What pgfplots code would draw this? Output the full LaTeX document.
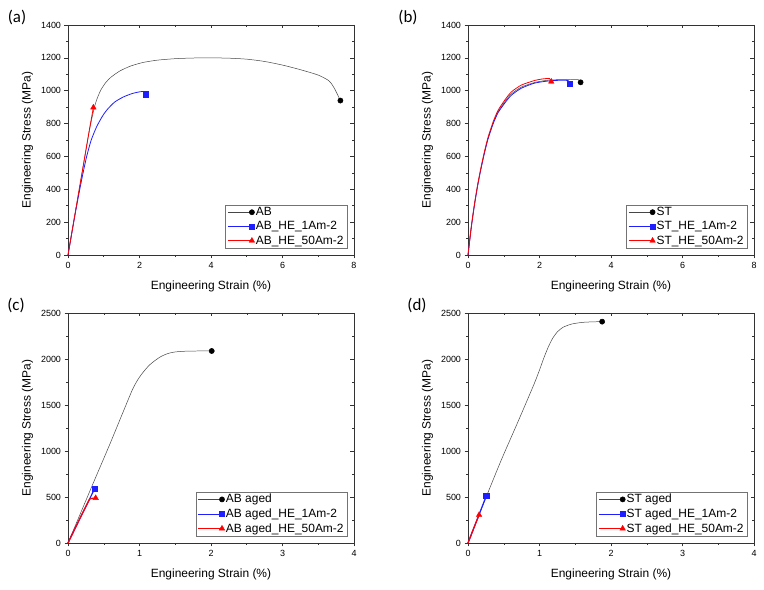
\documentclass[border=0pt]{standalone}
\usepackage{pgfplots}
\pgfplotsset{compat=1.18}
\usepackage{fontspec}
\setmainfont{Liberation Sans}
\newfontfamily\carlito{Carlito}
\definecolor{cblack}{RGB}{70,70,70}
\definecolor{cblue}{RGB}{30,30,255}
\definecolor{cred}{RGB}{255,0,0}
\pgfplotsset{
 base/.style={scale only axis, width=286bp, height=230bp, xmin=0, ymin=0,
   axis line style={black!80,line width=0.6pt},
   every tick/.style={black!80, line width=0.5pt},
   major tick length=3.5bp, minor tick length=2bp,
   minor x tick num=1, minor y tick num=1,
   /pgf/number format/assume math mode=true,
   /pgf/number format/1000 sep={},
   tick label style={font=\fontsize{9}{10}\selectfont},
   scaled ticks=false, clip=false},
 main/.style={base, axis x line*=bottom, axis y line*=left, tick align=outside,
   xlabel={Engineering Strain (\%)}, ylabel={Engineering Stress (MPa)},
   label style={font=\fontsize{12}{14}\selectfont},
   ylabel shift=1bp, xlabel shift=6bp,
   legend cell align=left,
   legend style={at={(1,0)}, anchor=south east, xshift=-7bp, yshift=7bp,
     draw=black!55, line width=0.4pt, fill=white,
     font=\fontsize{12}{13}\selectfont, inner xsep=2bp, inner ysep=1bp,
     row sep=2bp, nodes={inner sep=1.2bp}},
   legend image code/.code={\draw[#1, mark indices={2}, sharp plot, line width=0.5pt] plot coordinates {(0bp,0bp) (24bp,0bp)};}},
 frame/.style={base, axis x line*=top, axis y line*=right, tick align=inside,
   xticklabels={}, yticklabels={}},
 pblack/.style={cblack, line width=0.5pt, mark=*, mark indices={#1}, mark options={black, fill=black, mark size=2.6bp}},
 pblue/.style={cblue, line width=0.8pt, mark=square*, mark indices={#1}, mark options={cblue, fill=cblue, mark size=2.7bp, line width=0.4pt}},
 pred/.style={cred, line width=0.8pt, mark=triangle*, mark indices={#1}, mark options={cred, fill=cred, mark size=3.2bp, line width=0.4pt}},
}
\begin{document}
\begin{tikzpicture}
\useasboundingbox (0,0) rectangle (764bp,590bp);
% ---------- (a)
\begin{axis}[main, at={(68bp,335bp)}, anchor=south west, xmax=8, ymax=1400,
  xtick={0,2,4,6,8}, ytick={0,200,...,1400}]
\addplot[pblack=24, smooth, tension=0.4] coordinates {(0,0) (0.3,380) (0.6,760) (0.74,900) (0.82,955) (0.92,1005) (1.05,1048) (1.2,1082) (1.45,1120) (1.75,1150) (2.1,1172) (2.5,1186) (3.0,1195) (3.5,1199) (4.0,1200) (4.5,1198) (5.0,1192) (5.5,1178) (6.0,1156) (6.5,1128) (7.0,1095) (7.3,1060) (7.45,1015) (7.62,940)};
\addlegendentry{AB}
\addplot[pblue=15, smooth, tension=0.4] coordinates {(0,0) (0.2,250) (0.38,456) (0.52,598) (0.65,700) (0.8,780) (0.95,840) (1.08,881) (1.3,930) (1.55,962) (1.8,983) (2.0,993) (2.1,995) (2.15,990) (2.18,979)};
\addlegendentry{AB\_HE\_1Am-2}
\addplot[pred=5] coordinates {(0,0) (0.2,255) (0.4,510) (0.6,765) (0.71,898)};
\addlegendentry{AB\_HE\_50Am-2}
\end{axis}
\begin{axis}[frame, at={(68bp,335bp)}, anchor=south west, xmax=8, ymax=1400,
  xtick={0,2,4,6,8}, ytick={0,200,...,1400}]
\end{axis}
% ---------- (b)
\begin{axis}[main, at={(468bp,335bp)}, anchor=south west, xmax=8, ymax=1400,
  xtick={0,2,4,6,8}, ytick={0,200,...,1400}]
\addplot[pblack=18, smooth, tension=0.4] coordinates {(0,0) (0.093,172) (0.186,314) (0.28,436) (0.373,538) (0.466,629) (0.56,710) (0.70,801) (0.84,872) (1.03,933) (1.21,980) (1.49,1022) (1.86,1050) (2.2,1063) (2.6,1068) (3.0,1068) (3.1,1066) (3.15,1051)};
\addlegendentry{ST}
\addplot[pblue=17, smooth, tension=0.4] coordinates {(0,0) (0.093,170) (0.186,312) (0.28,434) (0.373,535) (0.466,626) (0.56,706) (0.70,797) (0.84,866) (1.03,925) (1.21,972) (1.49,1015) (1.86,1046) (2.2,1058) (2.5,1063) (2.8,1062) (2.84,1041)};
\addlegendentry{ST\_HE\_1Am-2}
\addplot[pred=16, smooth, tension=0.4] coordinates {(0,0) (0.093,174) (0.186,318) (0.28,440) (0.373,543) (0.466,635) (0.56,716) (0.70,809) (0.84,880) (1.03,943) (1.21,992) (1.49,1034) (1.86,1062) (2.1,1072) (2.28,1074) (2.33,1055)};
\addlegendentry{ST\_HE\_50Am-2}
\end{axis}
\begin{axis}[frame, at={(468bp,335bp)}, anchor=south west, xmax=8, ymax=1400,
  xtick={0,2,4,6,8}, ytick={0,200,...,1400}]
\end{axis}
% ---------- (c)
\begin{axis}[main, at={(68bp,47bp)}, anchor=south west, xmax=4, ymax=2500,
  xtick={0,1,2,3,4}, ytick={0,500,...,2500}]
\addplot[pblack=15, smooth, tension=0.4] coordinates {(0,0) (0.336,620) (0.583,1070) (0.75,1385) (0.9,1665) (0.98,1780) (1.06,1865) (1.14,1935) (1.22,1985) (1.305,2029) (1.4,2060) (1.5,2077) (1.68,2086) (1.85,2087) (2.01,2087)};
\addlegendentry{AB aged}
\addplot[pblue=4, line width=1.2pt] coordinates {(0,0) (0.15,240) (0.3,475) (0.373,591)};
\addlegendentry{AB aged\_HE\_1Am-2}
\addplot[pred=6, line width=1.2pt] coordinates {(0,0) (0.1,160) (0.2,320) (0.3,475) (0.34,487) (0.387,489)};
\addlegendentry{AB aged\_HE\_50Am-2}
\end{axis}
\begin{axis}[frame, at={(68bp,47bp)}, anchor=south west, xmax=4, ymax=2500,
  xtick={0,1,2,3,4}, ytick={0,500,...,2500}]
\end{axis}
% ---------- (d)
\begin{axis}[main, at={(468bp,47bp)}, anchor=south west, xmax=4, ymax=2500,
  xtick={0,1,2,3,4}, ytick={0,500,...,2500}]
\addplot[pblack=15, smooth, tension=0.4] coordinates {(0,0) (0.257,505) (0.467,905) (0.70,1320) (0.92,1720) (1.0,1880) (1.06,2010) (1.12,2125) (1.18,2220) (1.25,2295) (1.33,2345) (1.45,2380) (1.6,2398) (1.75,2404) (1.876,2406)};
\addlegendentry{ST aged}
\addplot[pblue=3, line width=1.2pt] coordinates {(0,0) (0.13,260) (0.257,514)};
\addlegendentry{ST aged\_HE\_1Am-2}
\addplot[pred=3, line width=1.2pt] coordinates {(0,0) (0.08,160) (0.155,305)};
\addlegendentry{ST aged\_HE\_50Am-2}
\end{axis}
\begin{axis}[frame, at={(468bp,47bp)}, anchor=south west, xmax=4, ymax=2500,
  xtick={0,1,2,3,4}, ytick={0,500,...,2500}]
\end{axis}
% panel letters
\node[font=\carlito\fontsize{17}{19}\selectfont] at (17bp,573bp) {(a)};
\node[font=\carlito\fontsize{17}{19}\selectfont] at (408bp,573bp) {(b)};
\node[font=\carlito\fontsize{17}{19}\selectfont] at (16bp,285bp) {(c)};
\node[font=\carlito\fontsize{17}{19}\selectfont] at (417bp,285bp) {(d)};
\end{tikzpicture}
\end{document}
